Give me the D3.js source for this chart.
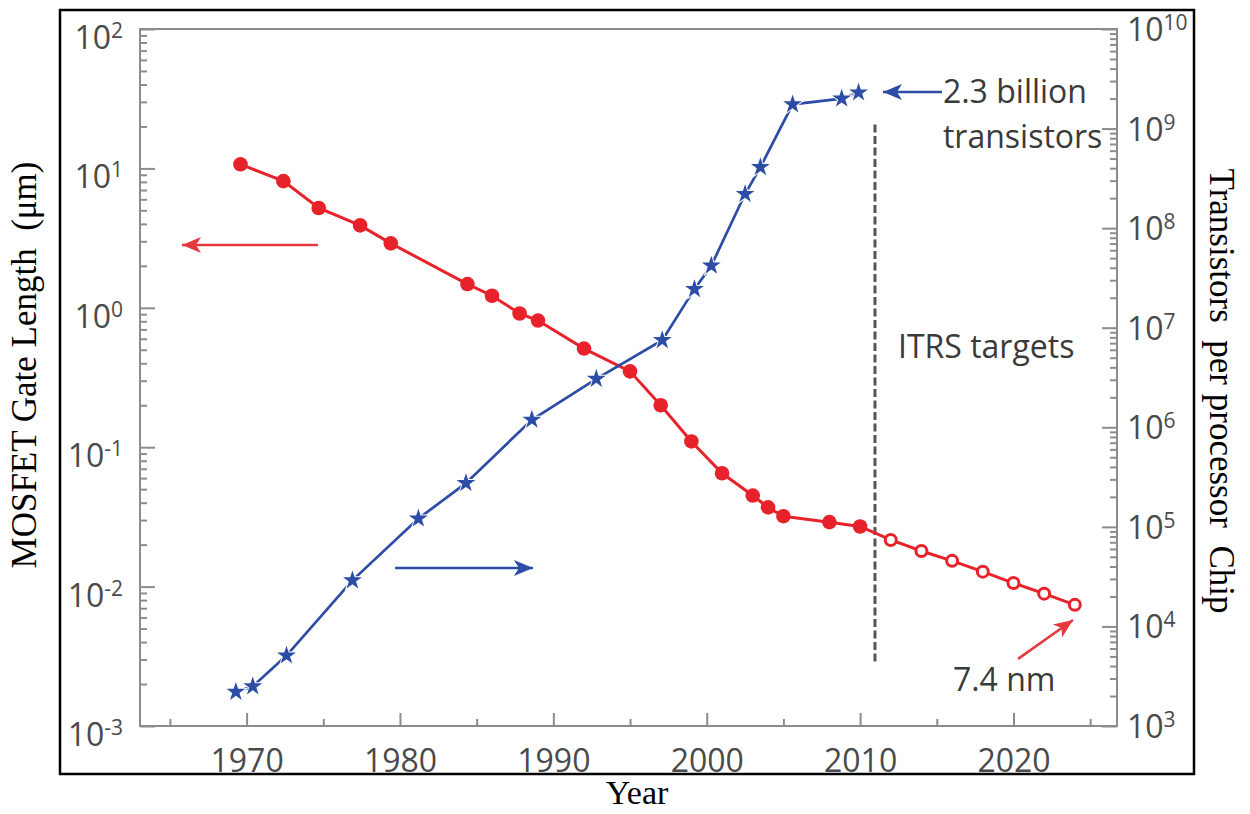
<!DOCTYPE html>
<html>
<head>
<meta charset="utf-8">
<script src="https://cdn.jsdelivr.net/npm/d3@7"></script>
<style>
  body { margin: 0; background: #fff; }
  svg { display: block; }
</style>
</head>
<body>
<div id="chart"></div>
<script>
// gate length (um), measured
const gateYears = [1969.6, 1972.4, 1974.7, 1977.4, 1979.4, 1984.4, 1986, 1987.8, 1989, 1992, 1995, 1997, 1999, 2001, 2003, 2004, 2005, 2008, 2010];
const gateLengths = [10.7, 8.1, 5.2, 3.9, 2.9, 1.48, 1.22, 0.91, 0.81, 0.51, 0.35, 0.2, 0.11, 0.065, 0.045, 0.037, 0.032, 0.029, 0.027];
// ITRS targets (um)
const itrsYears = [2012, 2014, 2016, 2018, 2020, 2022, 2024];
const itrsLengths = [0.0216, 0.018, 0.0153, 0.0128, 0.0106, 0.0089, 0.0074];
// transistors per chip
const chipYears = [1969.3, 1970.4, 1972.6, 1976.9, 1981.2, 1984.3, 1988.6, 1992.8, 1997.1, 1999.2, 2000.3, 2002.5, 2003.5, 2005.6, 2008.8, 2009.9];
const chipTransistors = [2200, 2500, 5100, 29000, 121000, 275000, 1.19e6, 3.06e6, 7.5e6, 2.44e7, 4.2e7, 2.2e8, 4.1e8, 1.75e9, 2.0e9, 2.3e9];

const yearTicks = [1970, 1980, 1990, 2000, 2010, 2020];
const yearMinorTicks = [1965, 1975, 1985, 1995, 2005, 2015, 2025];
const leftExponents = [-3, -2, -1, 0, 1, 2];
const rightExponents = [3, 4, 5, 6, 7, 8, 9, 10];

const W = 1250, H = 814;
const plot = { left: 140, right: 1117, top: 29, bottom: 726 };
const red = "#e8222a", blue = "#2c4ca6", axisGray = "#8c8c8c", labelGray = "#4a4a4a";
const sans = "'Open Sans', 'DejaVu Sans', sans-serif";
const serif = "'Liberation Serif', 'Times New Roman', serif";

const svg = d3.select("#chart").append("svg")
    .attr("width", W)
    .attr("height", H);

const x = d3.scaleLinear().domain([1963.05, 2026.75]).range([plot.left, plot.right]);
const yL = d3.scaleLog().domain([1e-3, 1e2]).range([plot.bottom, plot.top]);
const yR = d3.scaleLog().domain([1e3, 1e10]).range([plot.bottom, plot.top]);

// outer black frame
svg.append("rect")
    .attr("x", 60).attr("y", 10)
    .attr("width", 1134).attr("height", 764)
    .attr("fill", "none").attr("stroke", "#000").attr("stroke-width", 2.5);

function minorLog(lo, hi) {
    const out = [];
    for (let e = lo; e < hi; e++) {
        for (let k = 2; k <= 9; k++) out.push(k * Math.pow(10, e));
    }
    return out;
}

function styleAxis(g) {
    g.select(".domain").remove();
    g.selectAll(".tick line").attr("stroke", axisGray).attr("stroke-width", 2);
}

// x axis (ticks point inward)
svg.append("g")
    .attr("transform", `translate(0,${plot.bottom})`)
    .call(d3.axisBottom(x).tickValues(yearTicks).tickSize(-13).tickSizeOuter(0).tickPadding(23).tickFormat(d3.format("d")))
    .call(styleAxis)
    .call(g => g.selectAll("text").attr("fill", labelGray).style("font-family", sans).style("font-size", "32px"));

svg.append("g")
    .attr("transform", `translate(0,${plot.bottom})`)
    .call(d3.axisBottom(x).tickValues(yearMinorTicks).tickSize(-7).tickSizeOuter(0).tickFormat(""))
    .call(styleAxis);

// left axis
svg.append("g")
    .attr("transform", `translate(${plot.left},0)`)
    .call(d3.axisLeft(yL).tickValues(leftExponents.map(e => Math.pow(10, e))).tickSize(-15).tickSizeOuter(0).tickFormat(""))
    .call(styleAxis);
svg.append("g")
    .attr("transform", `translate(${plot.left},0)`)
    .call(d3.axisLeft(yL).tickValues(minorLog(-3, 2)).tickSize(-7).tickSizeOuter(0).tickFormat(""))
    .call(styleAxis);

// right axis
svg.append("g")
    .attr("transform", `translate(${plot.right},0)`)
    .call(d3.axisRight(yR).tickValues(rightExponents.map(e => Math.pow(10, e))).tickSize(-15).tickSizeOuter(0).tickFormat(""))
    .call(styleAxis);
svg.append("g")
    .attr("transform", `translate(${plot.right},0)`)
    .call(d3.axisRight(yR).tickValues(minorLog(3, 10)).tickSize(-7).tickSizeOuter(0).tickFormat(""))
    .call(styleAxis);

// gray plot box
svg.append("rect")
    .attr("x", plot.left).attr("y", plot.top)
    .attr("width", plot.right - plot.left).attr("height", plot.bottom - plot.top)
    .attr("fill", "none").attr("stroke", axisGray).attr("stroke-width", 2);

// power-of-ten labels
function powLabel(sel, e) {
    sel.append("tspan").text("10");
    sel.append("tspan").attr("dy", -11).style("font-size", "21px").text(e < 0 ? "-" + (-e) : e);
}
leftExponents.forEach(e => {
    svg.append("text")
        .attr("x", 123).attr("y", yL(Math.pow(10, e)) + 20)
        .attr("text-anchor", "end")
        .attr("fill", labelGray)
        .style("font-family", sans).style("font-size", "32px")
        .call(powLabel, e);
});
rightExponents.forEach(e => {
    svg.append("text")
        .attr("x", 1127).attr("y", yR(Math.pow(10, e)) + 12)
        .attr("fill", labelGray)
        .style("font-family", sans).style("font-size", "32px")
        .call(powLabel, e);
});

// axis titles
svg.append("text")
    .attr("transform", "translate(36,365) rotate(-90)")
    .attr("text-anchor", "middle")
    .style("font-family", serif).style("font-size", "35px").style("white-space", "pre")
    .text("MOSFET Gate Length  (μm)");
svg.append("text")
    .attr("transform", "translate(1210,391) rotate(90)")
    .attr("text-anchor", "middle")
    .style("font-family", serif).style("font-size", "35px").style("white-space", "pre")
    .text("Transistors  per processor  Chip");
svg.append("text")
    .attr("x", 637).attr("y", 804)
    .attr("text-anchor", "middle")
    .style("font-family", serif).style("font-size", "34px")
    .text("Year");

// ITRS dashed divider
svg.append("line")
    .attr("x1", x(2010.97)).attr("x2", x(2010.97))
    .attr("y1", yR(1.1e9)).attr("y2", yR(4400))
    .attr("stroke", "#555").attr("stroke-width", 3)
    .attr("stroke-dasharray", "8,3.5");

// gate length line (measured + targets)
const gateAll = gateYears.map((d, i) => [d, gateLengths[i]])
    .concat(itrsYears.map((d, i) => [d, itrsLengths[i]]));
svg.append("path")
    .datum(gateAll)
    .attr("fill", "none").attr("stroke", red).attr("stroke-width", 3)
    .attr("d", d3.line().x(d => x(d[0])).y(d => yL(d[1])));

// transistor line
const chipAll = chipYears.map((d, i) => [d, chipTransistors[i]]);
svg.append("path")
    .datum(chipAll)
    .attr("fill", "none").attr("stroke", blue).attr("stroke-width", 2.7)
    .attr("d", d3.line().x(d => x(d[0])).y(d => yR(d[1])));

svg.append("g").selectAll("circle")
    .data(gateYears.map((d, i) => [d, gateLengths[i]]))
    .enter().append("circle")
    .attr("cx", d => x(d[0])).attr("cy", d => yL(d[1]))
    .attr("r", 7.3).attr("fill", red);

svg.append("g").selectAll("circle")
    .data(itrsYears.map((d, i) => [d, itrsLengths[i]]))
    .enter().append("circle")
    .attr("cx", d => x(d[0])).attr("cy", d => yL(d[1]))
    .attr("r", 5.5).attr("fill", "#fff").attr("stroke", red).attr("stroke-width", 3);

svg.append("g").selectAll("path")
    .data(chipAll)
    .enter().append("path")
    .attr("transform", d => `translate(${x(d[0])},${yR(d[1])})`)
    .attr("d", d3.symbol(d3.symbolStar).size(110))
    .attr("fill", blue).attr("stroke", "#fff").attr("stroke-width", 2)
    .style("paint-order", "stroke");

// annotation arrows
function arrow(x1, y1, x2, y2, color) {
    svg.append("line")
        .attr("x1", x1).attr("y1", y1).attr("x2", x2).attr("y2", y2)
        .attr("stroke", color).attr("stroke-width", 2.5);
    const a = Math.atan2(y2 - y1, x2 - x1) * 180 / Math.PI;
    svg.append("path")
        .attr("transform", `translate(${x2},${y2}) rotate(${a})`)
        .attr("d", "M0,0 L-19,-8 L-14,0 L-19,8 Z")
        .attr("fill", color);
}
arrow(x(1974.65), yL(2.82), x(1965.79), yL(2.82), "#e5393e");
arrow(x(1979.68), yR(38700), x(1988.67), yR(38700), blue);
arrow(x(2015.34), yR(2.33e9), x(2011.49), yR(2.33e9), blue);
arrow(x(2020.3), yL(0.00303), x(2023.88), yL(0.00576), "#e5393e");

// annotation texts
const noteStyle = sel => sel.attr("fill", "#3a3a3a").style("font-family", sans).style("font-size", "32px");
svg.append("text").attr("x", x(2015.4)).attr("y", yR(1.81e9)).call(noteStyle).text("2.3 billion");
svg.append("text").attr("x", x(2015.4)).attr("y", yR(6.38e8)).call(noteStyle).text("transistors");
svg.append("text").attr("x", x(2012.47)).attr("y", yR(4.98e6)).call(noteStyle).text("ITRS targets");
svg.append("text").attr("x", x(2016.05)).attr("y", yR(2250)).call(noteStyle).text("7.4 nm");
</script>
</body>
</html>
